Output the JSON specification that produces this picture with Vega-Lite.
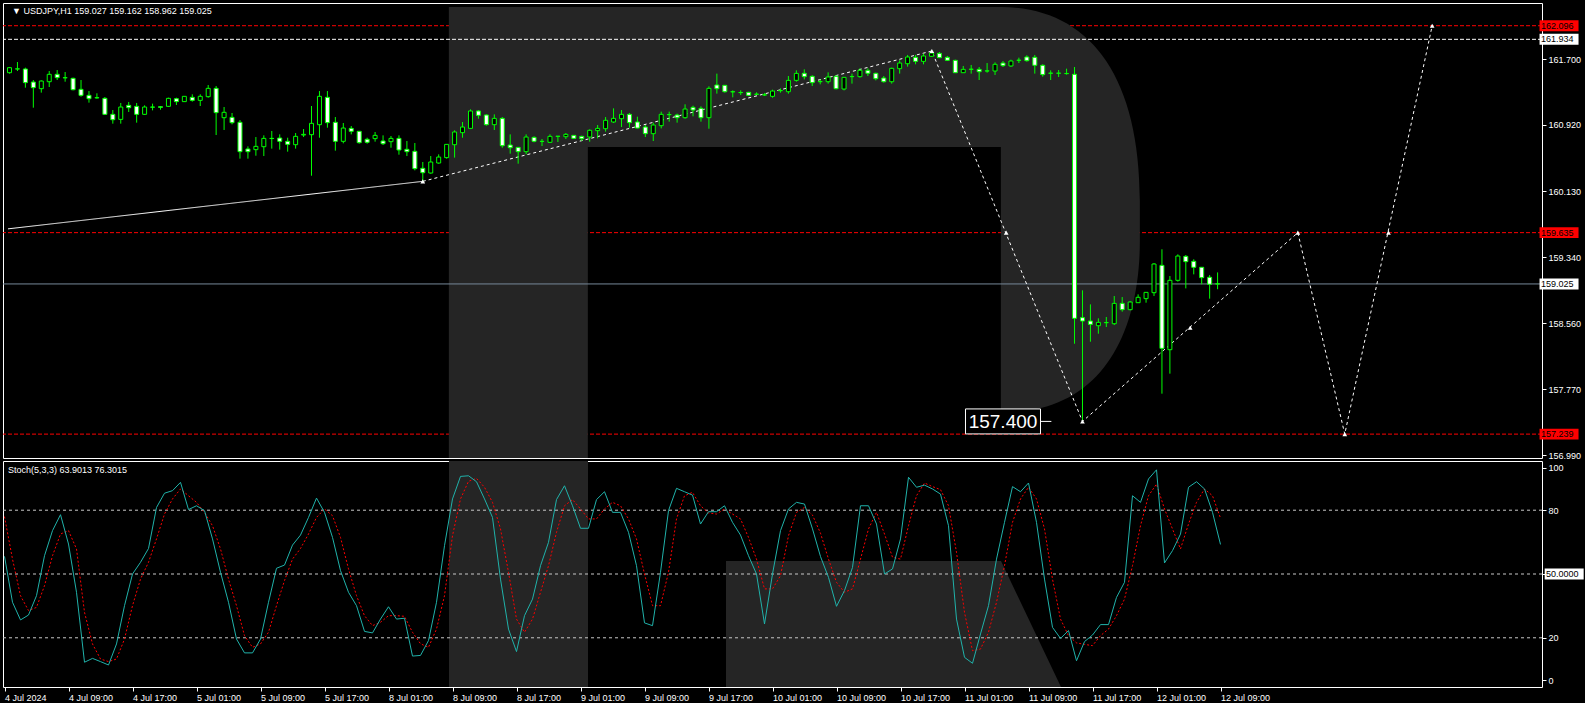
{
  "$schema": "https://vega.github.io/schema/vega-lite/v6.json",
  "background": "#000000",
  "padding": {"left": 2, "top": 2, "right": 0, "bottom": 0},
  "spacing": 3,
  "bounds": "flush",
  "datasets": {
    "candles": [
      {"k":0,"o":161.537,"h":161.605,"l":161.526,"c":161.597},{"k":1,"o":161.581,"h":161.664,"l":161.557,"c":161.583},{"k":2,"o":161.581,"h":161.597,"l":161.359,"c":161.419},{"k":3,"o":161.426,"h":161.450,"l":161.121,"c":161.359},{"k":4,"o":161.347,"h":161.446,"l":161.300,"c":161.438},{"k":5,"o":161.430,"h":161.557,"l":161.367,"c":161.518},{"k":6,"o":161.518,"h":161.569,"l":161.450,"c":161.478},{"k":7,"o":161.478,"h":161.545,"l":161.430,"c":161.476},{"k":8,"o":161.470,"h":161.478,"l":161.327,"c":161.335},{"k":9,"o":161.339,"h":161.450,"l":161.252,"c":161.268},
      {"k":10,"o":161.268,"h":161.319,"l":161.181,"c":161.228},{"k":11,"o":161.240,"h":161.292,"l":161.228,"c":161.238},{"k":12,"o":161.232,"h":161.248,"l":161.034,"c":161.042},{"k":13,"o":161.042,"h":161.093,"l":160.931,"c":160.978},{"k":14,"o":160.982,"h":161.177,"l":160.931,"c":161.129},{"k":15,"o":161.149,"h":161.189,"l":161.070,"c":161.121},{"k":16,"o":161.137,"h":161.177,"l":160.943,"c":161.042},{"k":17,"o":161.042,"h":161.149,"l":161.034,"c":161.129},{"k":18,"o":161.129,"h":161.169,"l":161.089,"c":161.127},{"k":19,"o":161.133,"h":161.141,"l":161.097,"c":161.125},
      {"k":20,"o":161.137,"h":161.240,"l":161.129,"c":161.232},{"k":21,"o":161.228,"h":161.240,"l":161.153,"c":161.193},{"k":22,"o":161.193,"h":161.256,"l":161.193,"c":161.256},{"k":23,"o":161.244,"h":161.280,"l":161.193,"c":161.208},{"k":24,"o":161.208,"h":161.280,"l":161.141,"c":161.256},{"k":25,"o":161.252,"h":161.391,"l":161.240,"c":161.351},{"k":26,"o":161.351,"h":161.379,"l":160.796,"c":161.062},{"k":27,"o":161.002,"h":161.129,"l":160.856,"c":161.066},{"k":28,"o":161.006,"h":161.058,"l":160.923,"c":160.943},{"k":29,"o":160.947,"h":160.974,"l":160.515,"c":160.598},
      {"k":30,"o":160.630,"h":160.661,"l":160.515,"c":160.598},{"k":31,"o":160.622,"h":160.772,"l":160.550,"c":160.661},{"k":32,"o":160.657,"h":160.792,"l":160.546,"c":160.756},{"k":33,"o":160.756,"h":160.844,"l":160.634,"c":160.754},{"k":34,"o":160.760,"h":160.804,"l":160.622,"c":160.721},{"k":35,"o":160.721,"h":160.764,"l":160.598,"c":160.685},{"k":36,"o":160.681,"h":160.820,"l":160.634,"c":160.780},{"k":37,"o":160.796,"h":160.867,"l":160.772,"c":160.804},{"k":38,"o":160.800,"h":161.141,"l":160.312,"c":160.935},{"k":39,"o":160.919,"h":161.319,"l":160.764,"c":161.256},
      {"k":40,"o":161.244,"h":161.319,"l":160.883,"c":160.943},{"k":41,"o":160.947,"h":161.010,"l":160.610,"c":160.721},{"k":42,"o":160.721,"h":160.939,"l":160.697,"c":160.879},{"k":43,"o":160.875,"h":160.903,"l":160.804,"c":160.840},{"k":44,"o":160.840,"h":160.844,"l":160.693,"c":160.705},{"k":45,"o":160.745,"h":160.764,"l":160.693,"c":160.709},{"k":46,"o":160.753,"h":160.832,"l":160.717,"c":160.792},{"k":47,"o":160.725,"h":160.792,"l":160.677,"c":160.693},{"k":48,"o":160.717,"h":160.784,"l":160.645,"c":160.756},{"k":49,"o":160.756,"h":160.792,"l":160.562,"c":160.618},
      {"k":50,"o":160.626,"h":160.725,"l":160.546,"c":160.598},{"k":51,"o":160.602,"h":160.701,"l":160.376,"c":160.396},{"k":52,"o":160.400,"h":160.475,"l":160.237,"c":160.348},{"k":53,"o":160.344,"h":160.546,"l":160.336,"c":160.475},{"k":54,"o":160.463,"h":160.566,"l":160.455,"c":160.534},{"k":55,"o":160.527,"h":160.685,"l":160.515,"c":160.685},{"k":56,"o":160.681,"h":160.852,"l":160.527,"c":160.832},{"k":57,"o":160.824,"h":160.951,"l":160.764,"c":160.891},{"k":58,"o":160.875,"h":161.101,"l":160.867,"c":161.082},{"k":59,"o":161.082,"h":161.093,"l":160.990,"c":161.030},
      {"k":60,"o":161.034,"h":161.042,"l":160.907,"c":160.919},{"k":61,"o":160.919,"h":161.042,"l":160.856,"c":160.994},{"k":62,"o":160.994,"h":161.010,"l":160.645,"c":160.669},{"k":63,"o":160.677,"h":160.804,"l":160.574,"c":160.645},{"k":64,"o":160.649,"h":160.653,"l":160.455,"c":160.598},{"k":65,"o":160.598,"h":160.804,"l":160.566,"c":160.772},{"k":66,"o":160.768,"h":160.780,"l":160.709,"c":160.721},{"k":67,"o":160.721,"h":160.749,"l":160.665,"c":160.719},{"k":68,"o":160.709,"h":160.804,"l":160.701,"c":160.780},{"k":69,"o":160.780,"h":160.784,"l":160.713,"c":160.782},
      {"k":70,"o":160.776,"h":160.820,"l":160.749,"c":160.804},{"k":71,"o":160.792,"h":160.792,"l":160.749,"c":160.756},{"k":72,"o":160.780,"h":160.788,"l":160.725,"c":160.752},{"k":73,"o":160.772,"h":160.863,"l":160.717,"c":160.852},{"k":74,"o":160.848,"h":160.915,"l":160.756,"c":160.875},{"k":75,"o":160.871,"h":161.010,"l":160.836,"c":160.971},{"k":76,"o":160.951,"h":161.113,"l":160.939,"c":160.994},{"k":77,"o":160.990,"h":161.093,"l":160.891,"c":161.042},{"k":78,"o":161.042,"h":161.058,"l":160.883,"c":160.943},{"k":79,"o":160.951,"h":161.014,"l":160.875,"c":160.879},
      {"k":80,"o":160.891,"h":160.915,"l":160.772,"c":160.812},{"k":81,"o":160.812,"h":160.943,"l":160.725,"c":160.915},{"k":82,"o":160.907,"h":161.074,"l":160.875,"c":161.042},{"k":83,"o":161.038,"h":161.074,"l":160.955,"c":161.040},{"k":84,"o":161.034,"h":161.050,"l":160.943,"c":161.002},{"k":85,"o":161.002,"h":161.161,"l":160.990,"c":161.105},{"k":86,"o":161.125,"h":161.145,"l":161.018,"c":161.093},{"k":87,"o":161.113,"h":161.137,"l":160.955,"c":161.002},{"k":88,"o":161.002,"h":161.375,"l":160.871,"c":161.351},{"k":89,"o":161.391,"h":161.526,"l":161.288,"c":161.347},
      {"k":90,"o":161.387,"h":161.387,"l":161.300,"c":161.311},{"k":91,"o":161.311,"h":161.327,"l":161.244,"c":161.309},{"k":92,"o":161.300,"h":161.327,"l":161.272,"c":161.302},{"k":93,"o":161.304,"h":161.308,"l":161.260,"c":161.268},{"k":94,"o":161.280,"h":161.304,"l":161.272,"c":161.282},{"k":95,"o":161.272,"h":161.296,"l":161.260,"c":161.274},{"k":96,"o":161.256,"h":161.335,"l":161.240,"c":161.319},{"k":97,"o":161.323,"h":161.351,"l":161.300,"c":161.325},{"k":98,"o":161.311,"h":161.498,"l":161.288,"c":161.446},{"k":99,"o":161.446,"h":161.565,"l":161.430,"c":161.529},
      {"k":100,"o":161.530,"h":161.577,"l":161.458,"c":161.490},{"k":101,"o":161.494,"h":161.506,"l":161.379,"c":161.419},{"k":102,"o":161.430,"h":161.458,"l":161.399,"c":161.432},{"k":103,"o":161.430,"h":161.541,"l":161.407,"c":161.486},{"k":104,"o":161.494,"h":161.506,"l":161.339,"c":161.347},{"k":105,"o":161.343,"h":161.482,"l":161.327,"c":161.482},{"k":106,"o":161.490,"h":161.526,"l":161.407,"c":161.492},{"k":107,"o":161.490,"h":161.589,"l":161.478,"c":161.565},{"k":108,"o":161.565,"h":161.589,"l":161.498,"c":161.530},{"k":109,"o":161.530,"h":161.537,"l":161.446,"c":161.466},
      {"k":110,"o":161.474,"h":161.498,"l":161.419,"c":161.430},{"k":111,"o":161.430,"h":161.597,"l":161.407,"c":161.589},{"k":112,"o":161.585,"h":161.684,"l":161.526,"c":161.652},{"k":113,"o":161.644,"h":161.748,"l":161.609,"c":161.724},{"k":114,"o":161.720,"h":161.748,"l":161.637,"c":161.672},{"k":115,"o":161.672,"h":161.763,"l":161.637,"c":161.736},{"k":116,"o":161.732,"h":161.807,"l":161.724,"c":161.771},{"k":117,"o":161.767,"h":161.783,"l":161.716,"c":161.716},{"k":118,"o":161.720,"h":161.736,"l":161.676,"c":161.684},{"k":119,"o":161.684,"h":161.692,"l":161.537,"c":161.537},
      {"k":120,"o":161.537,"h":161.617,"l":161.537,"c":161.577},{"k":121,"o":161.577,"h":161.629,"l":161.526,"c":161.579},{"k":122,"o":161.577,"h":161.605,"l":161.450,"c":161.549},{"k":123,"o":161.557,"h":161.652,"l":161.537,"c":161.559},{"k":124,"o":161.557,"h":161.660,"l":161.510,"c":161.637},{"k":125,"o":161.652,"h":161.676,"l":161.605,"c":161.621},{"k":126,"o":161.617,"h":161.692,"l":161.605,"c":161.676},{"k":127,"o":161.684,"h":161.716,"l":161.652,"c":161.686},{"k":128,"o":161.724,"h":161.744,"l":161.668,"c":161.680},{"k":129,"o":161.720,"h":161.748,"l":161.526,"c":161.625},
      {"k":130,"o":161.625,"h":161.637,"l":161.490,"c":161.514},{"k":131,"o":161.530,"h":161.565,"l":161.450,"c":161.532},{"k":132,"o":161.530,"h":161.569,"l":161.486,"c":161.532},{"k":133,"o":161.526,"h":161.585,"l":161.514,"c":161.528},{"k":134,"o":161.518,"h":161.605,"l":158.314,"c":158.616},{"k":135,"o":158.624,"h":158.949,"l":157.400,"c":158.584},{"k":136,"o":158.584,"h":158.782,"l":158.338,"c":158.544},{"k":137,"o":158.528,"h":158.616,"l":158.433,"c":158.568},{"k":138,"o":158.564,"h":158.632,"l":158.513,"c":158.566},{"k":139,"o":158.552,"h":158.881,"l":158.536,"c":158.794},
      {"k":140,"o":158.794,"h":158.869,"l":158.695,"c":158.719},{"k":141,"o":158.719,"h":158.822,"l":158.711,"c":158.810},{"k":142,"o":158.802,"h":158.901,"l":158.802,"c":158.866},{"k":143,"o":158.850,"h":158.925,"l":158.802,"c":158.925},{"k":144,"o":158.921,"h":159.274,"l":158.881,"c":159.262},{"k":145,"o":159.246,"h":159.437,"l":157.720,"c":158.259},{"k":146,"o":158.243,"h":159.119,"l":157.958,"c":159.068},{"k":147,"o":159.068,"h":159.377,"l":159.052,"c":159.357},{"k":148,"o":159.353,"h":159.369,"l":158.972,"c":159.290},{"k":149,"o":159.294,"h":159.318,"l":159.139,"c":159.223},
      {"k":150,"o":159.223,"h":159.223,"l":159.021,"c":159.100},{"k":151,"o":159.104,"h":159.131,"l":158.850,"c":159.021},{"k":152,"o":159.027,"h":159.162,"l":158.962,"c":159.025}
    ],
    "stoch": [
      {"k":0,"m":58.3,"s":77},{"k":1,"m":36.7,"s":57},{"k":2,"m":28.4,"s":39.8},{"k":3,"m":30.7,"s":32.8},{"k":4,"m":39.8,"s":34.3},{"k":5,"m":58.6,"s":44.5},{"k":6,"m":70.4,"s":58.6},{"k":7,"m":77.9,"s":68.8},{"k":8,"m":64.1,"s":70.4},{"k":9,"m":41.4,"s":61.8},
      {"k":10,"m":8.5,"s":32},{"k":11,"m":10.3,"s":17.1},{"k":12,"m":8.8,"s":10},{"k":13,"m":7.2,"s":8.8},{"k":14,"m":17.1,"s":10},{"k":15,"m":35.1,"s":19.4},{"k":16,"m":50,"s":35.1},{"k":17,"m":55.5,"s":47.6},{"k":18,"m":62,"s":55.5},{"k":19,"m":81.3,"s":66.5},
      {"k":20,"m":88,"s":78.2},{"k":21,"m":89.2,"s":85.3},{"k":22,"m":93.1,"s":90},{"k":23,"m":80.3,"s":86.8},{"k":24,"m":82.1,"s":83.7},{"k":25,"m":79.8,"s":79},{"k":26,"m":66.5,"s":72.7},{"k":27,"m":50.8,"s":61.8},{"k":28,"m":36.7,"s":47.6},{"k":29,"m":19.4,"s":35.1},
      {"k":30,"m":12.9,"s":21},{"k":31,"m":12.9,"s":15.5},{"k":32,"m":19.4,"s":17.1},{"k":33,"m":36.7,"s":22.6},{"k":34,"m":52.7,"s":35.1},{"k":35,"m":54.2,"s":46.9},{"k":36,"m":63.6,"s":57},{"k":37,"m":68.3,"s":62},{"k":38,"m":76.6,"s":68.8},{"k":39,"m":85.7,"s":76.6},
      {"k":40,"m":79,"s":80.6},{"k":41,"m":67.2,"s":77.4},{"k":42,"m":51.6,"s":67.2},{"k":43,"m":41.4,"s":52.4},{"k":44,"m":35.1,"s":39.8},{"k":45,"m":23,"s":30.4},{"k":46,"m":22.3,"s":25.7},{"k":47,"m":28.8,"s":27.3},{"k":48,"m":34.6,"s":30.4},{"k":49,"m":28.8,"s":30.4},
      {"k":50,"m":29.2,"s":30.1},{"k":51,"m":11.4,"s":22.6},{"k":52,"m":11.7,"s":17.2},{"k":53,"m":18.7,"s":15.5},{"k":54,"m":36.7,"s":24.1},{"k":55,"m":63.3,"s":39.8},{"k":56,"m":85.3,"s":68},{"k":57,"m":95.9,"s":85.3},{"k":58,"m":96.2,"s":93.6},{"k":59,"m":93.4,"s":95},
      {"k":60,"m":85.3,"s":90.8},{"k":61,"m":76.6,"s":83.7},{"k":62,"m":47.6,"s":71.2},{"k":63,"m":24.1,"s":50.8},{"k":64,"m":13.5,"s":28.8},{"k":65,"m":30.4,"s":22.6},{"k":66,"m":38.2,"s":28.8},{"k":67,"m":53.9,"s":41.4},{"k":68,"m":64.9,"s":53.9},{"k":69,"m":85,"s":69.6},
      {"k":70,"m":91.5,"s":82.1},{"k":71,"m":82.1,"s":85},{"k":72,"m":71.5,"s":80.6},{"k":73,"m":71.5,"s":75.9},{"k":74,"m":85,"s":75.9},{"k":75,"m":88.7,"s":80.6},{"k":76,"m":79,"s":83.7},{"k":77,"m":79,"s":82.1},{"k":78,"m":69.6,"s":75.9},{"k":79,"m":53.9,"s":66.5},
      {"k":80,"m":27,"s":50},{"k":81,"m":25.7,"s":35.1},{"k":82,"m":50.8,"s":35.1},{"k":83,"m":79.8,"s":50.8},{"k":84,"m":90.3,"s":75.9},{"k":85,"m":88.7,"s":86.8},{"k":86,"m":87.1,"s":88.4},{"k":87,"m":73.5,"s":82.1},{"k":88,"m":79.3,"s":78.7},{"k":89,"m":79.3,"s":78.2},
      {"k":90,"m":82.1,"s":80.6},{"k":91,"m":74.3,"s":78.2},{"k":92,"m":68.3,"s":75.9},{"k":93,"m":58.6,"s":67.2},{"k":94,"m":50,"s":57},{"k":95,"m":26.5,"s":43},{"k":96,"m":50,"s":43},{"k":97,"m":70.4,"s":49.2},{"k":98,"m":80.6,"s":68},{"k":99,"m":83.7,"s":79},
      {"k":100,"m":82.9,"s":81.3},{"k":101,"m":71.2,"s":77.7},{"k":102,"m":58.2,"s":69.2},{"k":103,"m":48.4,"s":57},{"k":104,"m":34.8,"s":46.1},{"k":105,"m":42.2,"s":41.4},{"k":106,"m":53.1,"s":43},{"k":107,"m":82.1,"s":57},{"k":108,"m":82.1,"s":71.2},{"k":109,"m":73.5,"s":79},
      {"k":110,"m":50,"s":68.8},{"k":111,"m":52.4,"s":57.9},{"k":112,"m":66.5,"s":57},{"k":113,"m":95.5,"s":72.7},{"k":114,"m":90.8,"s":86.8},{"k":115,"m":91.8,"s":92.8},{"k":116,"m":90,"s":91.1},{"k":117,"m":87.6,"s":89.7},{"k":118,"m":72.7,"s":82.1},{"k":119,"m":28.8,"s":60.2},
      {"k":120,"m":10.8,"s":32},{"k":121,"m":8,"s":13.9},{"k":122,"m":21.8,"s":14.7},{"k":123,"m":35.1,"s":22.6},{"k":124,"m":57,"s":36.7},{"k":125,"m":74.3,"s":53.9},{"k":126,"m":91.1,"s":74.3},{"k":127,"m":88.7,"s":85.3},{"k":128,"m":92.8,"s":90.8},{"k":129,"m":74.3,"s":85.3},
      {"k":130,"m":47.6,"s":71.2},{"k":131,"m":24.9,"s":47.6},{"k":132,"m":19.7,"s":28.8},{"k":133,"m":23.4,"s":21},{"k":134,"m":9.2,"s":17.6},{"k":135,"m":18.2,"s":16.9},{"k":136,"m":21.3,"s":16.3},{"k":137,"m":26.2,"s":21},{"k":138,"m":26.2,"s":24.1},{"k":139,"m":39,"s":30.4},
      {"k":140,"m":46.1,"s":38.2},{"k":141,"m":86.8,"s":53.9},{"k":142,"m":83.7,"s":72.7},{"k":143,"m":94.7,"s":86.8},{"k":144,"m":99,"s":92.3},{"k":145,"m":55.2,"s":80.6},{"k":146,"m":61,"s":71.2},{"k":147,"m":68.8,"s":61.8},{"k":148,"m":90.8,"s":73.5},{"k":149,"m":93.4,"s":83.7},
      {"k":150,"m":90,"s":90},{"k":151,"m":79,"s":86.8},{"k":152,"m":63.9013,"s":76.3015}
    ],
    "trend": [
      {"k":-0.19,"p":159.68,"seg":"solid"},{"k":52,"p":160.245,"seg":"solid"},
      {"k":52,"p":160.245,"seg":"dash"},{"k":116.05,"p":161.795,"seg":"dash"},{"k":135,"p":157.39,"seg":"dash"},{"k":162.1,"p":159.635,"seg":"dash"},{"k":168,"p":157.239,"seg":"dash"},{"k":179,"p":162.096,"seg":"dash"}
    ],
    "marks": [
      {"k":52,"p":160.245},{"k":116.05,"p":161.795},{"k":125.4,"p":159.635},{"k":135,"p":157.39},{"k":148.55,"p":158.504},{"k":162.1,"p":159.635},{"k":168,"p":157.239},{"k":173.5,"p":159.635},{"k":179,"p":162.096}
    ],
    "pricetags": [
      {"p":162.096,"t":"162.096","kind":"level"},{"p":161.934,"t":"161.934","kind":"current"},{"p":159.635,"t":"159.635","kind":"level"},{"p":159.025,"t":"159.025","kind":"current"},{"p":157.239,"t":"157.239","kind":"level"}
    ]
  },
  "config": {
    "view": {"stroke": "#FFFFFF", "strokeWidth": 1},
    "font": "Liberation Sans",
    "axis": {"domain": false, "grid": false, "ticks": true, "tickColor": "#FFFFFF", "tickSize": 4, "labelColor": "#FFFFFF", "labelFont": "Liberation Sans", "labelFontSize": 9, "title": null}
  },
  "vconcat": [
    {
      "width": 1539,
      "height": 455,
      "layer": [
        {
          "data": {"values": [{"p":162.096},{"p":159.635},{"p":157.239}]},
          "mark": {"type": "rule", "color": "#FF0000", "strokeDash": [4, 2], "strokeWidth": 1},
          "encoding": {
            "y": {"field": "p", "type": "quantitative", "scale": {"domain": [156.955, 162.366], "nice": false, "zero": false},
                  "axis": {"orient": "right", "values": [161.7,161.31,160.92,160.52,160.13,159.74,159.34,158.95,158.56,158.17,157.77,157.38,156.99], "format": ".3f", "labelPadding": 2, "labelBaseline": "middle", "labelOverlap": false,
                           "labelExpr": "datum.value == 158.95 ? '' : datum.label"}}
          }
        },
        {
          "data": {"values": [{"k": 99, "p": 159.0}]},
          "mark": {"type": "point", "clip": true, "shape": "M-3.475,-2.79L2.045,-2.79C2.895,-2.79,3.435,-2.15,3.435,-0.85L3.435,-0.45C3.435,0.35,3.145,1.05,2.445,1.22L2.045,1.3L2.045,-1.39L-2.085,-1.39L-2.085,1.72L-3.475,1.72Z", "size": 40000, "filled": true, "color": "#252525", "opacity": 1, "strokeWidth": 0},
          "encoding": {
            "x": {"field": "k", "type": "quantitative", "scale": {"domain": [-0.1875, 192.1875], "nice": false, "zero": false}, "axis": null},
            "y": {"field": "p", "type": "quantitative"}
          }
        },
        {
          "data": {"values": [{"p":161.934}]},
          "mark": {"type": "rule", "color": "#FFFFFF", "strokeDash": [4, 2], "strokeWidth": 1},
          "encoding": {"y": {"field": "p", "type": "quantitative"}}
        },
        {
          "data": {"values": [{"p":159.025}]},
          "mark": {"type": "rule", "color": "#778899", "strokeWidth": 1},
          "encoding": {"y": {"field": "p", "type": "quantitative"}}
        },
        {
          "data": {"name": "trend"},
          "mark": {"type": "line", "color": "#FFFFFF", "strokeWidth": 1},
          "encoding": {
            "x": {"field": "k", "type": "quantitative", "axis": null},
            "y": {"field": "p", "type": "quantitative"},
            "detail": {"field": "seg"},
            "strokeDash": {"field": "seg", "type": "nominal", "scale": {"domain": ["solid", "dash"], "range": [[1, 0], [3, 3]]}, "legend": null}
          }
        },
        {
          "data": {"name": "candles"},
          "mark": {"type": "rule", "color": "#00FF00", "strokeWidth": 1},
          "encoding": {
            "x": {"field": "k", "type": "quantitative", "axis": null},
            "y": {"field": "l", "type": "quantitative"},
            "y2": {"field": "h"}
          }
        },
        {
          "data": {"name": "candles"},
          "mark": {"type": "bar", "width": 4, "stroke": "#00FF00", "strokeWidth": 1},
          "encoding": {
            "x": {"field": "k", "type": "quantitative", "axis": null},
            "y": {"field": "o", "type": "quantitative"},
            "y2": {"field": "c"},
            "fill": {"condition": {"test": "datum.c < datum.o", "value": "#FFFFFF"}, "value": "#000000"}
          }
        },
        {
          "data": {"name": "marks"},
          "mark": {"type": "point", "shape": "triangle-up", "size": 22, "filled": true, "color": "#FFFFFF", "opacity": 1},
          "encoding": {
            "x": {"field": "k", "type": "quantitative", "axis": null},
            "y": {"field": "p", "type": "quantitative"}
          }
        },
        {
          "data": {"values": [{"k": 125, "p": 157.39, "t": "157.400"}]},
          "mark": {"type": "point", "shape": "M-1,-0.333L1,-0.333L1,0.333L-1,0.333ZM1,0L1.29,0", "size": 5625, "filled": false, "fill": "#000000", "fillOpacity": 1, "stroke": "#FFFFFF", "strokeWidth": 1, "opacity": 1},
          "encoding": {
            "x": {"field": "k", "type": "quantitative", "axis": null},
            "y": {"field": "p", "type": "quantitative"}
          }
        },
        {
          "data": {"values": [{"k": 125, "p": 157.39, "t": "157.400"}]},
          "mark": {"type": "text", "color": "#FFFFFF", "fontSize": 19, "font": "Liberation Sans", "align": "center", "baseline": "middle", "dy": 1},
          "encoding": {
            "x": {"field": "k", "type": "quantitative", "axis": null},
            "y": {"field": "p", "type": "quantitative"},
            "text": {"field": "t"}
          }
        },
        {
          "data": {"values": [{"t": "▼ USDJPY,H1  159.027 159.162 158.962 159.025"}]},
          "mark": {"type": "text", "color": "#FFFFFF", "fontSize": 9, "font": "Liberation Sans", "align": "left", "baseline": "alphabetic"},
          "encoding": {
            "x": {"datum": 0.3125, "type": "quantitative", "axis": null},
            "y": {"datum": 162.232, "type": "quantitative"},
            "text": {"field": "t"}
          }
        },
        {
          "data": {"name": "pricetags"},
          "mark": {"type": "point", "shape": "M-1,-0.28L1,-0.28L1,0.28L-1,0.28Z", "size": 1521, "filled": true, "opacity": 1, "strokeWidth": 0},
          "encoding": {
            "x": {"datum": 194.96, "type": "quantitative", "axis": null},
            "y": {"field": "p", "type": "quantitative"},
            "color": {"field": "kind", "type": "nominal", "scale": {"domain": ["level", "current"], "range": ["#FF0000", "#FFFFFF"]}, "legend": null}
          }
        },
        {
          "data": {"name": "pricetags"},
          "mark": {"type": "text", "fontSize": 9, "font": "Liberation Sans", "align": "left", "baseline": "middle", "color": "#000000"},
          "encoding": {
            "x": {"datum": 192.69, "type": "quantitative", "axis": null},
            "y": {"field": "p", "type": "quantitative"},
            "text": {"field": "t"}
          }
        }
      ]
    },
    {
      "width": 1539,
      "height": 226,
      "layer": [
        {
          "data": {"values": [{"k": 99, "v": 50}]},
          "mark": {"type": "point", "clip": true, "shape": "M-3.475,-1.13L-2.085,-1.13L-2.085,1.13L-3.475,1.13ZM-0.705,-0.13L2.045,-0.13L2.645,1.13L-0.705,1.13Z", "size": 40000, "filled": true, "color": "#252525", "opacity": 1, "strokeWidth": 0},
          "encoding": {
            "x": {"field": "k", "type": "quantitative", "scale": {"domain": [-0.1875, 192.1875], "nice": false, "zero": false},
                  "axis": {"orient": "bottom", "values": [0,8,16,24,32,40,48,56,64,72,80,88,96,104,112,120,128,136,144,152],
                           "labelExpr": "['4 Jul 2024','4 Jul 09:00','4 Jul 17:00','5 Jul 01:00','5 Jul 09:00','5 Jul 17:00','8 Jul 01:00','8 Jul 09:00','8 Jul 17:00','9 Jul 01:00','9 Jul 09:00','9 Jul 17:00','10 Jul 01:00','10 Jul 09:00','10 Jul 17:00','11 Jul 01:00','11 Jul 09:00','11 Jul 17:00','12 Jul 01:00','12 Jul 09:00'][round(datum.value/8)]",
                           "labelAlign": "left", "labelBaseline": "top", "labelPadding": 2, "labelOverlap": false, "labelFlush": false}},
            "y": {"field": "v", "type": "quantitative", "scale": {"domain": [-3.15, 103.15], "nice": false, "zero": false},
                  "axis": {"orient": "right", "values": [0, 20, 50, 80, 100], "labelPadding": 2, "labelBaseline": "middle", "labelExpr": "datum.value == 50 ? '' : datum.label"}}
          }
        },
        {
          "data": {"values": [{"v":20},{"v":50},{"v":80}]},
          "mark": {"type": "rule", "color": "#C8C8C8", "strokeDash": [3, 3], "strokeWidth": 1},
          "encoding": {
            "y": {"field": "v", "type": "quantitative"}
          }
        },
        {
          "data": {"name": "stoch"},
          "mark": {"type": "line", "color": "#FF0000", "strokeWidth": 1, "strokeDash": [2, 2]},
          "encoding": {
            "x": {"field": "k", "type": "quantitative"},
            "y": {"field": "s", "type": "quantitative"}
          }
        },
        {
          "data": {"name": "stoch"},
          "mark": {"type": "line", "color": "#20B2AA", "strokeWidth": 1},
          "encoding": {
            "x": {"field": "k", "type": "quantitative"},
            "y": {"field": "m", "type": "quantitative"}
          }
        },
        {
          "data": {"values": [{"t": "Stoch(5,3,3) 63.9013 76.3015"}]},
          "mark": {"type": "text", "color": "#FFFFFF", "fontSize": 9, "font": "Liberation Sans", "align": "left", "baseline": "alphabetic"},
          "encoding": {
            "x": {"datum": 0.4375, "type": "quantitative"},
            "y": {"datum": 97.5, "type": "quantitative"},
            "text": {"field": "t"}
          }
        },
        {
          "data": {"values": [{"v": 50, "t": "50.0000"}]},
          "mark": {"type": "point", "shape": "M-1,-0.28L1,-0.28L1,0.28L-1,0.28Z", "size": 1521, "filled": true, "color": "#FFFFFF", "opacity": 1, "strokeWidth": 0},
          "encoding": {
            "x": {"datum": 194.96, "type": "quantitative"},
            "y": {"field": "v", "type": "quantitative"}
          }
        },
        {
          "data": {"values": [{"v": 50, "t": "50.0000"}]},
          "mark": {"type": "text", "fontSize": 9, "font": "Liberation Sans", "align": "left", "baseline": "middle", "color": "#000000"},
          "encoding": {
            "x": {"datum": 192.69, "type": "quantitative"},
            "y": {"field": "v", "type": "quantitative"},
            "text": {"field": "t"}
          }
        }
      ]
    }
  ]
}
